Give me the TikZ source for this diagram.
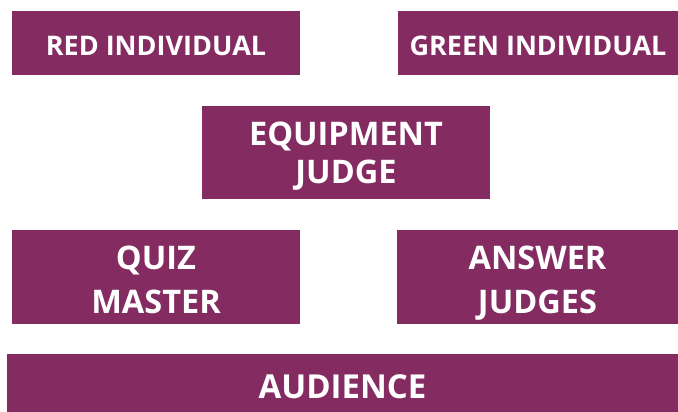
\documentclass[tikz,border=0pt]{standalone}
\usepackage{fontspec}
\setmainfont{Open Sans}
\usepackage{xcolor}
\usepackage{tikz}
\usetikzlibrary{shapes,positioning}

\definecolor{quizpurple}{HTML}{842C62}

\begin{document}
\begin{tikzpicture}[x=1pt, y=-1pt,
    quizbox/.style={rectangle, fill=quizpurple, text=white, inner sep=0pt, align=center, text depth=0pt}]
    \useasboundingbox (0,0) rectangle (678,412);

    \node (red) [quizbox, minimum width=288pt, minimum height=64pt, text height=24.3pt, font=\bfseries\fontsize{27}{30}\selectfont] at (156,43) {RED INDIVIDUAL};
    \node (green) [quizbox, minimum width=280pt, minimum height=64pt, text height=24.3pt, font=\bfseries\fontsize{27}{30}\selectfont] at (538,43) {GREEN INDIVIDUAL};
    \node (equip) [quizbox, minimum width=288pt, minimum height=93pt, text height=62.2pt, font=\bfseries\fontsize{32.5}{38}\selectfont] at (346,152.5) {EQUIPMENT\\JUDGE};
    \node (quiz) [quizbox, minimum width=288pt, minimum height=94pt, text height=72.7pt, font=\bfseries\fontsize{32.5}{43.5}\selectfont] at (156,277) {QUIZ\\MASTER};
    \node (answer) [quizbox, minimum width=281pt, minimum height=94pt, text height=72.7pt, font=\bfseries\fontsize{32.5}{43.5}\selectfont] at (537.5,277) {ANSWER\\JUDGES};
    \node (audience) [quizbox, minimum width=671pt, minimum height=58pt, text height=30.6pt, font=\bfseries\fontsize{33}{38}\selectfont] at (342.5,383) {AUDIENCE};
\end{tikzpicture}
\end{document}
